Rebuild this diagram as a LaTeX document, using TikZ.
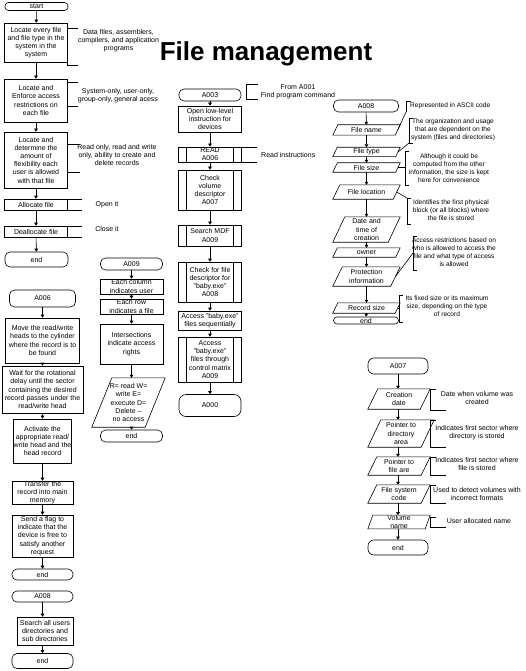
\documentclass[tikz,border=0pt]{standalone}
\usepackage{fontspec}
\setmainfont{Liberation Sans}
\usetikzlibrary{arrows.meta}
\newcommand{\fsz}{\fontsize{7}{8.2}\selectfont}
\newcommand{\nsz}{\fontsize{7}{8.0}\selectfont}
\newcommand{\rsz}{\fontsize{6.6}{7.9}\selectfont}
\newcommand{\pgram}[2]{\draw[line width=0.6pt] ([xshift=#1]#2.north west) -- (#2.north east) -- ([xshift=-#1]#2.south east) -- (#2.south west) -- cycle;}
\begin{document}
\begin{tikzpicture}[x=1pt,y=-1pt,
  every node/.style={font=\fsz, align=center, inner sep=0pt},
  box/.style={draw, line width=0.6pt, rectangle},
  term/.style={draw, line width=0.6pt, rectangle, rounded corners=5pt},
  iot/.style={rectangle},
  pre/.style={box, path picture={
    \draw[line width=0.6pt] ([xshift=8pt]path picture bounding box.north west) -- ([xshift=8pt]path picture bounding box.south west);
    \draw[line width=0.6pt] ([xshift=-8pt]path picture bounding box.north east) -- ([xshift=-8pt]path picture bounding box.south east);}},
  arr/.style={line width=0.6pt, -{Triangle[length=3pt,width=3.6pt]}},
  ann/.style={line width=0.6pt},
  note/.style={font=\nsz, align=center},
  rnote/.style={font=\rsz, align=center}
]
\fill[white] (0,0) rectangle (526,671);
\useasboundingbox (0,0) rectangle (526,671);

% title
\node[font=\fontsize{26}{30}\selectfont\bfseries] (title) at (266,54) {File management};

% ---------- left column, upper ----------
\node[term, rounded corners=3.5pt, minimum width=63, minimum height=8] (start) at (36.5,6.5) {start};
\node[box, minimum width=63, minimum height=39] (b1) at (36,42.5) {Locate every file\\and file type in the\\system in the\\system};
\node[box, minimum width=63, minimum height=43] (b2) at (36,100.5) {Locate and\\Enforce access\\restrictions on\\each file};
\node[box, minimum width=63, minimum height=56] (b3) at (36,160) {Locate and\\determine the\\amount of\\flexibility each\\user is allowed\\with that file};
\node[box, minimum width=63, minimum height=11] (alloc) at (36,204.5) {Allocate file};
\node[box, minimum width=63, minimum height=11] (dealloc) at (36,231.5) {Deallocate file};
\node[term, minimum width=63, minimum height=15] (end1) at (36.5,259.5) {end};
\draw[arr] (start) -- (b1);
\draw[arr] (b1) -- (b2);
\draw[arr] (b2) -- (b3);
\draw[arr] (b3) -- (alloc);
\draw[arr] (alloc) -- (dealloc);
\draw[arr] (dealloc) -- (end1);

\draw[ann] (78,28) -- (67.5,28) -- (67.5,65) -- (78,65);
\node[note] (n1) at (118.5,41) {Data files, assemblers,\\compilers, and application\\programs};
\draw[ann] (78,82) -- (67.5,82) -- (67.5,106) -- (78,106);
\node[note] (n2) at (118,95.5) {System-only, user-only,\\group-only, general acess};
\draw[ann] (80,144) -- (67.5,144) -- (67.5,172) -- (80,172);
\node[note] (n3) at (117,155) {Read only, read and write\\only, ability to create and\\delete records};
\draw[ann] (82,199) -- (67.5,199) -- (67.5,210) -- (82,210);
\node[note] (n4) at (107,205) {Open it};
\draw[ann] (82,226) -- (67.5,226) -- (67.5,237) -- (82,237);
\node[note] (n5) at (107,229) {Close it};

% ---------- left column, lower ----------
\node[term, minimum width=66, minimum height=17] (a006) at (42.5,298.5) {A006};
\node[box, minimum width=74, minimum height=45] (m1) at (42.5,340.5) {Move the read/write\\heads to the cylinder\\where the record is to\\be found};
\node[box, minimum width=81, minimum height=47] (m2) at (42.5,389.5) {Wait for the rotational\\delay until the sector\\containing the desired\\record passes under the\\read/write head};
\node[box, minimum width=58, minimum height=44] (m3) at (42.5,441) {Activate the\\appropriate read/\\write head and the\\head record};
\node[box, minimum width=61, minimum height=21] (m4) at (42.5,492.5) {Transfer the\\record into main\\memory};
\node[box, minimum width=61, minimum height=42] (m5) at (42.5,536) {Send a flag to\\indicate that the\\device is free to\\satisfy another\\request};
\node[term, minimum width=61, minimum height=11] (end2) at (42.5,574.5) {end};
\node[term, minimum width=61, minimum height=11] (a008l) at (42.5,596.5) {A008};
\node[box, minimum width=56, minimum height=28] (m6) at (45,631) {Search all users\\directories and\\sub directories};
\node[term, minimum width=61, minimum height=15] (end3) at (42.5,661) {end};
\draw[arr] (a006) -- (m1);
\draw[arr] (m1) -- (m2);
\draw[arr] (m2) -- (m3);
\draw[arr] (m3) -- (m4);
\draw[arr] (m4) -- (m5);
\draw[arr] (m5) -- (end2);
\draw[arr] (a008l.south -| 42.5,0) -- (m6.north -| 42.5,0);
\draw[arr] (m6.south -| 42.5,0) -- (end3.north -| 42.5,0);

% ---------- A009 column ----------
\node[term, minimum width=62, minimum height=12] (a009) at (131.5,264) {A009};
\node[box, minimum width=63, minimum height=15] (c1) at (131.5,286.5) {Each column\\indicates user};
\node[box, minimum width=63, minimum height=15] (c2) at (131.5,306.5) {Each row\\indicates a file};
\node[box, minimum width=63, minimum height=40] (c3) at (131.5,344) {Intersections\\indicate access\\rights};
\node[iot, minimum width=73, minimum height=49] (c4) at (128.5,402.5) {R= read W=\\write E=\\execute D=\\Delete --\\no access};
\pgram{20pt}{c4}
\node[term, minimum width=62, minimum height=12] (end4) at (131.5,436) {end};
\draw[arr] (a009) -- (c1);
\draw[arr] (c1) -- (c2);
\draw[arr] (c2) -- (c3);
\draw[arr] (c3.south) -- (c4.north -| c3.south);
\draw[arr] (c4.south -| c3.south) -- (end4.north);

% ---------- middle column ----------
\node[term, minimum width=62, minimum height=12] (a003) at (210,95) {A003};
\node[box, minimum width=63, minimum height=26] (p1) at (210,119) {Open low-level\\instruction for\\devices};
\node[pre, minimum width=63, minimum height=15] (p2) at (210,154.5) {READ\\A006};
\node[pre, minimum width=63, minimum height=40] (p3) at (210,190) {Check\\volume\\descriptor\\A007};
\node[pre, minimum width=63, minimum height=21] (p4) at (210,235.5) {Search MDF\\A009};
\node[pre, minimum width=63, minimum height=40] (p5) at (210,282) {Check for file\\descriptor for\\"baby.exe"\\A008};
\node[box, minimum width=63, minimum height=19] (p6) at (210,320.5) {Access "baby.exe"\\files sequentially};
\node[pre, minimum width=63, minimum height=45] (p7) at (210,359.5) {Access\\"baby.exe"\\files through\\control matrix\\A009};
\node[term, rounded corners=7pt, minimum width=62, minimum height=22] (a000) at (210,405.5) {A000};
\draw[arr] (a003) -- (p1);
\draw[arr] (p1) -- (p2);
\draw[arr] (p2) -- (p3);
\draw[arr] (p3) -- (p4);
\draw[arr] (p4) -- (p5);
\draw[arr] (p5) -- (p6);
\draw[arr] (p6) -- (p7);
\draw[arr] (p7) -- (a000);

\draw[ann] (258,84) -- (246,84) -- (246,99) -- (258,99);
\node[note] (n6) at (298,91.5) {From A001\\Find program command};
\draw[ann] (257,147) -- (241.5,147) -- (241.5,162) -- (257,162);
\node[note, anchor=west] (n7) at (261,155) {Read instructions};

% ---------- right column (A008) ----------
\node[term, minimum width=65, minimum height=12] (a008r) at (366,106) {A008};
\node[iot, minimum width=67, minimum height=10] (fname) at (366.5,130) {File name};
\node[iot, minimum width=67, minimum height=9] (ftype) at (366.5,152) {File type};
\node[iot, minimum width=67, minimum height=9] (fsize) at (366.5,167.5) {File size};
\node[iot, minimum width=67, minimum height=14] (floc) at (366.5,192) {File location};
\node[iot, minimum width=67, minimum height=25] (fdate) at (366.5,229.5) {Date and\\time of\\creation};
\node[iot, minimum width=67, minimum height=9] (fowner) at (366.5,252.5) {owner};
\node[iot, minimum width=67, minimum height=19] (fprot) at (366.5,276.5) {Protection\\information};
\node[iot, minimum width=67, minimum height=10] (frec) at (366.5,308) {Record size};
\pgram{5pt}{fname}
\pgram{4.5pt}{ftype}
\pgram{4.5pt}{fsize}
\pgram{7pt}{floc}
\pgram{12pt}{fdate}
\pgram{4.5pt}{fowner}
\pgram{9.5pt}{fprot}
\pgram{5pt}{frec}
\node[term, rounded corners=3.5pt, minimum width=65, minimum height=7] (end5) at (366,320.5) {end};
\draw[arr] (a008r) -- (fname);
\draw[arr] (fname) -- (ftype);
\draw[arr] (ftype) -- (fsize);
\draw[arr] (fsize) -- (floc);
\draw[arr] (floc) -- (fdate);
\draw[arr] (fdate) -- (fowner);
\draw[arr] (fowner) -- (fprot);
\draw[arr] (fprot) -- (frec);
\draw[arr] (frec) -- (end5);

\coordinate (k1) at (406,112);
\draw[ann] (411,101) -- (406,101) -- (k1);
\draw[ann] ([xshift=-2.5pt]fname.east) -- (k1);
\node[rnote, anchor=west] (r1) at (410,106) {Represented in ASCII code};
\coordinate (k2) at (409,143);
\draw[ann] (413,118) -- (409,118) -- (k2) -- (413,143);
\draw[ann] ([xshift=-2.2pt]ftype.east) -- (k2);
\node[rnote] (r2) at (453,130) {The organization and usage\\that are dependent on the\\system (files and directories)};
\coordinate (k3) at (405,167.5);
\draw[ann] (409,151) -- (405,151) -- (405,185) -- (409,185);
\draw[ann] ([xshift=-2.2pt]fsize.east) -- (k3);
\node[rnote] (r3) at (449,168) {Although it could be\\computed from the other\\information, the size is kept\\here for convenience};
\coordinate (k4) at (407,198);
\draw[ann] (411,198) -- (k4) -- (407,224) -- (411,224);
\draw[ann] ([xshift=-3.5pt]floc.east) -- (k4);
\node[rnote] (r4) at (451,210) {Identifies the first physical\\block (or all blocks) where\\the file is stored};
\coordinate (k5) at (413,253);
\draw[ann] (417,236) -- (413,236) -- (413,270) -- (417,270);
\draw[ann] ([xshift=-4.7pt]fprot.east) -- (k5);
\node[rnote] (r5) at (454,252) {Access restrictions based on\\who is allowed to access the\\file and what type of access\\is allowed};
\coordinate (k6) at (399,308);
\draw[ann] (403,295) -- (399,295) -- (399,322) -- (403,322);
\draw[ann] ([xshift=-2.5pt]frec.east) -- (k6);
\node[rnote] (r6) at (447,306) {Its fixed size or its maximum\\size, depending on the type\\of record};

% ---------- A007 column ----------
\node[term, rounded corners=6pt, minimum width=60, minimum height=16] (a007) at (398,366) {A007};
\node[iot, minimum width=62, minimum height=20] (cd) at (399,399) {Creation\\date};
\node[iot, minimum width=66, minimum height=27] (pd) at (401,433.5) {Pointer to\\directory\\area};
\node[iot, minimum width=62, minimum height=18] (pf) at (399,466) {Pointer to\\file are};
\node[iot, minimum width=62, minimum height=18] (fs) at (399,494) {File system\\code};
\node[iot, minimum width=62, minimum height=10] (vn) at (399,522) {Volume\\name};
\pgram{10pt}{cd}
\pgram{13pt}{pd}
\pgram{9pt}{pf}
\pgram{9pt}{fs}
\pgram{5pt}{vn}
\node[term, rounded corners=6pt, minimum width=60, minimum height=15] (end6) at (398,547.5) {end};
\draw[arr] (a007.south -| 398,0) -- (cd.north -| 398,0);
\draw[arr] (cd.south -| 398,0) -- (pd.north -| 398,0);
\draw[arr] (pd.south -| 398,0) -- (pf.north -| 398,0);
\draw[arr] (pf.south -| 398,0) -- (fs.north -| 398,0);
\draw[arr] (fs.south -| 398,0) -- (vn.north -| 398,0);
\draw[arr] (vn.south -| 398,0) -- (end6.north -| 398,0);

\draw[ann] (436,389) -- (430,389) -- (430,410) -- (446,410);
\node[note] (s1) at (477,398) {Date when volume was\\created};
\draw[ann] (436,420) -- (430,420) -- (430,447) -- (446,447);
\node[note] (s2) at (477,433) {Indicates first sector where\\directory is stored};
\draw[ann] (436,457) -- (430,457) -- (430,475) -- (446,475);
\node[note] (s3) at (477,464) {Indicates first sector where\\file is stored};
\draw[ann] (436,485) -- (430,485) -- (430,503) -- (446,503);
\node[note] (s4) at (477,493.5) {Used to detect volumes with\\incorrect formats};
\draw[ann] (436,517) -- (430,517) -- (430,527) -- (446,527);
\node[note] (s5) at (479,521) {User allocated name};
\end{tikzpicture}
\end{document}
